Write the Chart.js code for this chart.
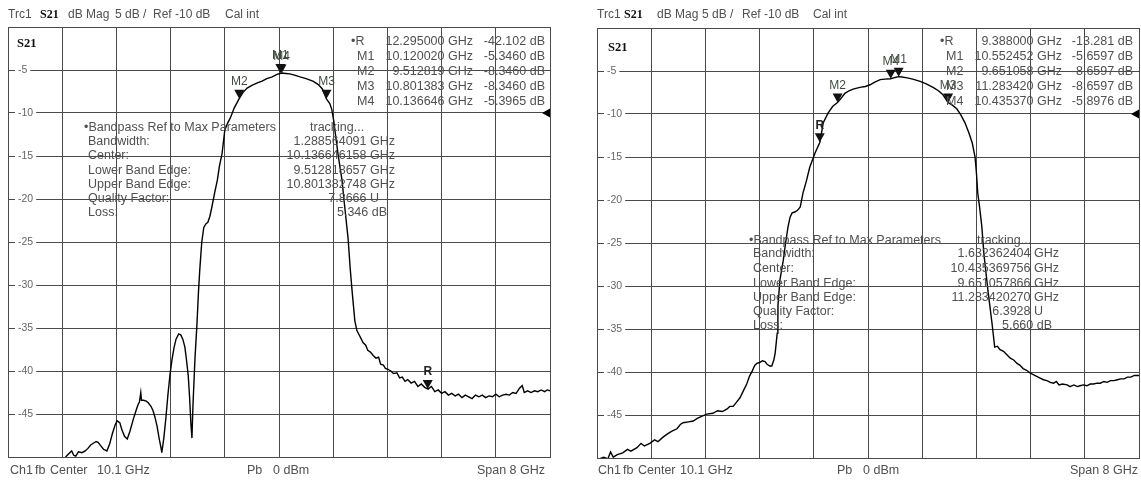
<!DOCTYPE html>
<html>
<head>
<meta charset="utf-8">
<script src="https://cdn.jsdelivr.net/npm/chart.js@4.4.1/dist/chart.umd.min.js"></script>
<style>
body{margin:0;background:#fff;width:1141px;height:480px;position:relative;overflow:hidden;font-family:"Liberation Sans",Arial,sans-serif;color:#505050}
canvas{position:absolute;top:0}
.t{position:absolute;white-space:nowrap;font-size:12.5px;line-height:14px;z-index:2}
.h{font-size:12px}
.s{font-family:"Liberation Serif","Times New Roman",serif;font-weight:bold;color:#111}
</style>
</head>
<body>
<canvas id="left" width="570" height="480" style="left:0"></canvas>
<canvas id="right" width="571" height="480" style="left:570px"></canvas>
<script>
// trace 1 (left screen) : frequency in GHz, S21 in dB
const leftFreq = [6.95,7.00,7.04,7.07,7.10,7.14,7.19,7.24,7.28,7.32,7.36,7.40,7.43,7.47,7.51,7.56,7.60,7.64,7.68,7.71,
  7.75,7.78,7.82,7.86,7.90,7.95,7.99,8.02,8.04,8.06,8.07,8.10,8.14,8.17,8.21,8.24,8.27,8.30,8.33,8.36,
  8.37,8.40,8.43,8.46,8.49,8.52,8.55,8.58,8.62,8.65,8.68,8.71,8.73,8.76,8.78,8.80,8.815,8.83,8.86,8.89,
  8.91,8.93,8.96,8.99,9.02,9.05,9.08,9.11,9.15,9.19,9.22,9.26,9.30,9.34,9.38,9.44,9.51,9.57,9.63,9.70,
  9.78,9.85,9.92,10.00,10.07,10.14,10.20,10.26,10.33,10.41,10.50,10.60,10.68,10.74,10.80,10.85,10.88,10.91,10.93,10.97,
  11.00,11.03,11.07,11.12,11.15,11.18,11.22,11.25,11.29,11.34,11.38,11.41,11.45,11.49,11.53,11.57,11.60,11.64,11.67,11.71,
  11.75,11.79,11.84,11.88,11.92,11.96,12.00,12.05,12.10,12.15,12.20,12.25,12.30,12.35,12.40,12.45,12.50,12.55,12.60,12.65,
  12.70,12.75,12.80,12.85,12.90,12.95,13.00,13.05,13.10,13.15,13.20,13.25,13.30,13.35,13.40,13.45,13.50,13.55,13.60,13.65,
  13.69,13.72,13.77,13.82,13.87,13.92,13.97,14.02,14.06,14.10];
const leftDb = [-50.0,-49.6,-49.3,-49.8,-49.9,-49.4,-49.5,-49.3,-49.0,-48.6,-48.4,-48.2,-48.3,-48.7,-49.1,-49.3,-48.5,-47.3,-46.3,-45.8,
  -46.0,-46.8,-47.6,-47.9,-47.0,-45.6,-44.6,-43.9,-43.6,-42.5,-43.4,-43.4,-43.5,-43.7,-44.1,-44.6,-45.4,-46.4,-47.8,-49.0,
  -49.5,-47.8,-45.5,-42.8,-40.5,-38.7,-37.3,-36.3,-35.7,-35.8,-36.3,-37.2,-38.4,-40.5,-43.0,-46.2,-47.8,-44.0,-38.5,-34.4,
  -31.0,-28.3,-25.0,-23.3,-22.9,-22.7,-22.0,-20.9,-19.3,-17.8,-16.2,-14.7,-12.0,-11.2,-10.6,-9.4,-8.35,-7.6,-7.1,-6.8,
  -6.5,-6.3,-6.0,-5.8,-5.5,-5.35,-5.4,-5.45,-5.6,-5.8,-6.0,-6.3,-6.7,-7.2,-8.35,-8.9,-9.6,-11.0,-12.3,-14.7,
  -16.3,-17.8,-20.9,-24.6,-28.0,-30.8,-34.2,-35.3,-35.9,-36.7,-37.0,-37.6,-37.8,-38.2,-38.5,-38.4,-39.2,-39.3,-39.7,-39.8,
  -40.0,-40.3,-40.2,-40.8,-40.7,-41.2,-41.0,-41.4,-41.2,-41.8,-41.5,-41.9,-42.1,-41.8,-42.4,-42.2,-42.6,-42.4,-42.8,-42.6,
  -42.9,-42.7,-43.1,-42.8,-43.0,-43.2,-42.8,-43.0,-42.8,-43.1,-42.9,-43.0,-42.7,-43.0,-42.8,-42.7,-42.8,-42.5,-42.6,-42.0,
  -41.7,-42.5,-42.3,-42.5,-42.3,-42.4,-42.2,-42.4,-42.2,-42.3];

// trace 2 (right screen)
const rightFreq = [6.10,6.20,6.26,6.30,6.34,6.40,6.48,6.55,6.60,6.69,6.75,6.80,6.88,6.95,7.00,7.07,7.14,7.20,7.28,7.33,
  7.37,7.45,7.52,7.58,7.66,7.72,7.81,7.88,7.95,8.02,8.06,8.11,8.16,8.21,8.26,8.31,8.35,8.39,8.43,8.46,
  8.50,8.54,8.58,8.61,8.65,8.68,8.71,8.73,8.76,8.77,8.80,8.85,8.88,8.92,8.95,8.98,9.02,9.06,9.10,9.14,
  9.19,9.24,9.32,9.39,9.44,9.51,9.58,9.65,9.70,9.76,9.82,9.88,9.98,10.06,10.13,10.20,10.28,10.35,10.435,10.50,
  10.55,10.60,10.68,10.76,10.87,10.96,11.06,11.14,11.21,11.28,11.35,11.41,11.47,11.53,11.59,11.64,11.68,11.70,11.72,11.75,
  11.78,11.81,11.87,11.93,11.97,12.01,12.05,12.10,12.15,12.20,12.25,12.30,12.34,12.39,12.44,12.49,12.54,12.59,12.64,12.69,
  12.74,12.79,12.84,12.88,12.92,12.97,13.04,13.08,13.14,13.19,13.23,13.28,13.33,13.38,13.43,13.48,13.53,13.58,13.63,13.68,
  13.73,13.78,13.83,13.88,13.93,13.98,14.03,14.10];
const rightDb = [-50.2,-49.9,-50.1,-49.3,-49.9,-49.6,-49.4,-49.0,-49.2,-48.8,-48.3,-48.6,-48.3,-47.9,-48.1,-47.6,-47.2,-46.9,-46.6,-46.1,
  -45.9,-45.8,-45.7,-45.4,-45.1,-44.9,-44.8,-44.5,-44.6,-44.3,-44.0,-44.0,-43.5,-43.0,-42.2,-41.4,-40.5,-39.9,-39.2,-39.0,
  -38.9,-38.7,-38.8,-39.1,-39.3,-39.3,-38.6,-37.8,-35.5,-32.4,-29.3,-27.0,-25.2,-23.1,-22.0,-21.5,-21.4,-21.2,-20.8,-19.2,
  -17.8,-16.2,-14.5,-13.28,-11.0,-9.9,-9.1,-8.66,-8.2,-7.6,-7.3,-7.1,-6.9,-6.8,-6.6,-6.3,-6.0,-5.95,-5.9,-5.75,
  -5.66,-5.7,-5.8,-5.95,-6.2,-6.5,-6.9,-7.3,-7.8,-8.66,-9.0,-9.4,-10.1,-11.0,-12.2,-13.4,-15.0,-16.8,-19.2,-21.0,
  -23.1,-26.2,-30.5,-34.3,-37.1,-37.0,-37.4,-37.6,-38.0,-38.4,-38.6,-39.0,-39.2,-39.6,-39.8,-40.1,-40.3,-40.5,-40.7,-40.9,
  -41.0,-41.2,-41.3,-41.1,-41.5,-41.4,-41.5,-41.7,-41.5,-41.7,-41.6,-41.5,-41.6,-41.4,-41.4,-41.3,-41.3,-41.1,-41.2,-41.0,
  -41.0,-40.9,-40.8,-40.8,-40.6,-40.6,-40.4,-40.4];

// grid: center 10.1 GHz, span 8 GHz, 10 divisions; 5 dB/div
const xGrid = [6.1,6.9,7.7,8.5,9.3,10.1,10.9,11.7,12.5,13.3,14.1];
const yMin = -50, yMax = 0, yStep = 5;
const refLevel = -10;

const leftMarkerNames = ['R','M1','M2','M3','M4'];
const leftMarkerFreq = [12.295000,10.120020,9.512819,10.801383,10.136646];
const leftMarkerDb = [-42.102,-5.3460,-8.3460,-8.3460,-5.3965];
const rightMarkerNames = ['R','M1','M2','M3','M4'];
const rightMarkerFreq = [9.388000,10.552452,9.651058,11.283420,10.435370];
const rightMarkerDb = [-13.281,-5.6597,-8.6597,-8.6597,-5.8976];

const gridColor = '#4a4a4a';

function markerPlugin(names, freq, db) {
  return {
    id: 'markers',
    afterDatasetsDraw(chart) {
      const {ctx, chartArea} = chart;
      const x = chart.scales.x, y = chart.scales.y;
      ctx.save();
      names.forEach((n, i) => {
        const px = x.getPixelForValue(freq[i]);
        const py = y.getPixelForValue(db[i]);
        ctx.fillStyle = '#111';
        ctx.beginPath();
        ctx.moveTo(px, py);
        ctx.lineTo(px - 5, py - 9);
        ctx.lineTo(px + 5, py - 9);
        ctx.closePath();
        ctx.fill();
        ctx.font = (n === 'R' ? 'bold ' : '') + '12px "Liberation Sans", Arial';
        ctx.textAlign = 'center';
        ctx.textBaseline = 'middle';
        ctx.fillStyle = n === 'R' ? '#222' : '#3f4a3f';
        ctx.fillText(n, px, py - 17);
      });
      // reference level arrow on the right edge
      const ry = y.getPixelForValue(refLevel);
      ctx.fillStyle = '#000';
      ctx.beginPath();
      ctx.moveTo(chartArea.right - 8, ry);
      ctx.lineTo(chartArea.right, ry - 4.5);
      ctx.lineTo(chartArea.right, ry + 4.5);
      ctx.closePath();
      ctx.fill();
      ctx.restore();
    }
  };
}

function makeChart(id, freq, db, pad, mNames, mFreq, mDb) {
  const hideEdge = c => (c.tick.value === yMin || c.tick.value === yMax);
  new Chart(document.getElementById(id), {
    type: 'line',
    data: {
      datasets: [{
        data: freq.map((f, i) => ({x: f, y: db[i]})),
        borderColor: '#000',
        borderWidth: 1.4,
        pointRadius: 0,
        tension: 0
      }]
    },
    options: {
      responsive: false,
      animation: false,
      devicePixelRatio: 1,
      layout: {padding: pad},
      plugins: {legend: {display: false}, tooltip: {enabled: false}},
      scales: {
        x: {
          type: 'linear', min: xGrid[0], max: xGrid[xGrid.length - 1],
          afterBuildTicks: s => { s.ticks = xGrid.map(v => ({value: v})); },
          afterFit: s => { s.height = 0; },
          ticks: {display: false},
          grid: {color: gridColor, lineWidth: 1, drawTicks: false},
          border: {color: gridColor}
        },
        y: {
          min: yMin, max: yMax,
          afterFit: s => { s.width = 0; },
          ticks: {
            stepSize: yStep, mirror: true, padding: 10,
            color: '#666', font: {family: '"Liberation Sans", Arial', size: 10.5},
            showLabelBackdrop: c => !hideEdge(c),
            backdropColor: '#fff', backdropPadding: {left: 3, right: 3, top: 0, bottom: 0},
            callback: v => (v === yMin || v === yMax) ? '' : String(v)
          },
          grid: {color: gridColor, lineWidth: 1, drawTicks: false},
          border: {color: gridColor}
        }
      }
    },
    plugins: [markerPlugin(mNames, mFreq, mDb)]
  });
}

makeChart('left', leftFreq, leftDb, {left: 8, right: 20, top: 27, bottom: 23}, leftMarkerNames, leftMarkerFreq, leftMarkerDb);
makeChart('right', rightFreq, rightDb, {left: 27, right: 2, top: 28, bottom: 22}, rightMarkerNames, rightMarkerFreq, rightMarkerDb);

// screen text
function put(x, y, text, align, cls) {
  const d = document.createElement('div');
  d.className = 't' + (cls ? ' ' + cls : '');
  d.textContent = text;
  d.style.top = (y - 7) + 'px';
  if (align === 'r') d.style.right = (1141 - x) + 'px';
  else d.style.left = x + 'px';
  document.body.appendChild(d);
}

// header lines
[[8, 40, 68, 115, 153, 225], [597, 624, 657, 702, 742, 813]].forEach(c => {
  put(c[0], 14, 'Trc1', 'l', 'h');
  put(c[1], 14, 'S21', 'l', 's h');
  put(c[2], 14, 'dB Mag', 'l', 'h');
  put(c[3], 14, '5 dB /', 'l', 'h');
  put(c[4], 14, 'Ref -10 dB', 'l', 'h');
  put(c[5], 14, 'Cal int', 'l', 'h');
});
put(17, 43, 'S21', 'l', 's');
put(608, 47, 'S21', 'l', 's');

// footer lines
put(10, 470, 'Ch1'); put(35, 470, 'fb'); put(50, 470, 'Center'); put(97, 470, '10.1 GHz');
put(247, 470, 'Pb'); put(273, 470, '0 dBm'); put(545, 470, 'Span 8 GHz', 'r');
put(598, 470, 'Ch1'); put(623, 470, 'fb'); put(638, 470, 'Center'); put(680, 470, '10.1 GHz');
put(837, 470, 'Pb'); put(863, 470, '0 dBm'); put(1138, 470, 'Span 8 GHz', 'r');

// marker tables
const rows = [41, 56, 71, 86, 101];
const leftTable = [['\u2022R','12.295000 GHz','-42.102 dB'],['M1','10.120020 GHz','-5.3460 dB'],['M2','9.512819 GHz','-8.3460 dB'],['M3','10.801383 GHz','-8.3460 dB'],['M4','10.136646 GHz','-5.3965 dB']];
const rightTable = [['\u2022R','9.388000 GHz','-13.281 dB'],['M1','10.552452 GHz','-5.6597 dB'],['M2','9.651058 GHz','-8.6597 dB'],['M3','11.283420 GHz','-8.6597 dB'],['M4','10.435370 GHz','-5.8976 dB']];
leftTable.forEach((r, i) => {
  put(i ? 357 : 351, rows[i], r[0]); put(473, rows[i], r[1], 'r'); put(545, rows[i], r[2], 'r');
});
rightTable.forEach((r, i) => {
  put(i ? 946 : 940, rows[i], r[0]); put(1062, rows[i], r[1], 'r'); put(1133, rows[i], r[2], 'r');
});

// bandpass parameter blocks
const bpLabels = ['\u2022Bandpass Ref to Max Parameters','Bandwidth:','Center:','Lower Band Edge:','Upper Band Edge:','Quality Factor:','Loss:'];
const leftBpRows = [127, 141, 155, 170, 184, 198, 212];
const rightBpRows = [240, 253, 268, 283, 297, 311, 325];
bpLabels.forEach((t, i) => {
  put(i ? 88 : 84, leftBpRows[i], t);
  put(i ? 753 : 749, rightBpRows[i], t);
});
put(310, 127, 'tracking...');
put(395, 141, '1.288564091 GHz', 'r');
put(395, 155, '10.136646158 GHz', 'r');
put(395, 170, '9.512818657 GHz', 'r');
put(395, 184, '10.801382748 GHz', 'r');
put(379, 198, '7.8666 U', 'r');
put(387, 212, '5.346 dB', 'r');
put(977, 240, 'tracking...');
put(1059, 253, '1.632362404 GHz', 'r');
put(1059, 268, '10.435369756 GHz', 'r');
put(1059, 283, '9.651057866 GHz', 'r');
put(1059, 297, '11.283420270 GHz', 'r');
put(1043, 311, '6.3928 U', 'r');
put(1052, 325, '5.660 dB', 'r');
</script>
</body>
</html>
